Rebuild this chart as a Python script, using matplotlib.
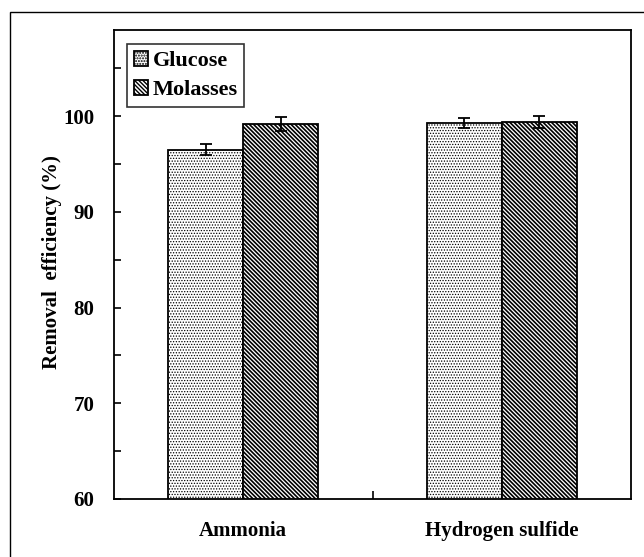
# bar chart: removal efficiency, glucose vs molasses

import numpy as np
import matplotlib.pyplot as plt
from matplotlib.patches import Rectangle
from matplotlib.ticker import MultipleLocator

# ---------------- data ----------------
categories = ['Ammonia', 'Hydrogen sulfide']
glucose = [96.5, 99.3]
glucose_err = [0.55, 0.5]
molasses = [99.2, 99.4]
molasses_err = [0.7, 0.6]

# ---------------- style ----------------
plt.rcParams['font.family'] = ['Liberation Serif', 'DejaVu Serif']
plt.rcParams['font.weight'] = 'bold'

fig = plt.figure(figsize=(6.44, 5.57), dpi=100)
ax = fig.add_axes([114/644, 1 - 499/557, 517/644, 469/557])

# outer frame around the whole picture
fig.patches.append(Rectangle((10/644, -0.1), 1.2, 1 - 12/557 + 0.1,
                             transform=fig.transFigure, fill=False,
                             edgecolor='black', linewidth=1.0))

x = np.array([0.5, 1.5])
w = 0.29
# thin dots for glucose, thick stripes for molasses
with plt.rc_context({'hatch.linewidth': 0.6}):
    ax.bar(x - w/2, glucose, w, color='white', edgecolor='black', linewidth=1.3,
           hatch='.' * 6, label='Glucose')
with plt.rc_context({'hatch.linewidth': 1.2}):
    ax.bar(x + w/2, molasses, w, color='white', edgecolor='black', linewidth=1.3,
           hatch='\\' * 8, label='Molasses')
ax.errorbar(x - w/2, glucose, yerr=glucose_err, fmt='none', ecolor='black',
            elinewidth=1.3, capsize=4, capthick=1.3)
ax.errorbar(x + w/2, molasses, yerr=molasses_err, fmt='none', ecolor='black',
            elinewidth=1.3, capsize=4, capthick=1.3)

ax.set_xlim(0, 2)
ax.set_ylim(60, 109)
ax.yaxis.set_major_locator(MultipleLocator(10))
ax.yaxis.set_minor_locator(MultipleLocator(5))
ax.tick_params(axis='y', which='both', direction='in', length=5, width=1.2,
               labelsize=15, pad=14)
ax.set_xticks(x)
ax.set_xticklabels(categories)
ax.tick_params(axis='x', which='major', length=0, labelsize=15, pad=16)
ax.set_xticks([1.0], minor=True)
ax.tick_params(axis='x', which='minor', direction='in', length=6, width=1.2)

for s in ax.spines.values():
    s.set_linewidth(1.3)

ax.set_ylabel('Removal  efficiency (%)', fontsize=15, fontweight='bold')
ax.yaxis.set_label_coords(-0.10, 0.506)

leg = ax.legend(loc='upper left', bbox_to_anchor=(0.025, 0.97), fontsize=16,
                frameon=True, fancybox=False, handlelength=0.65,
                handleheight=0.65, handletextpad=0.2, borderpad=0.3,
                labelspacing=0.4, borderaxespad=0)
leg.get_frame().set_edgecolor('black')
leg.get_frame().set_linewidth(1.2)

fig.savefig('out.png', dpi=100)
